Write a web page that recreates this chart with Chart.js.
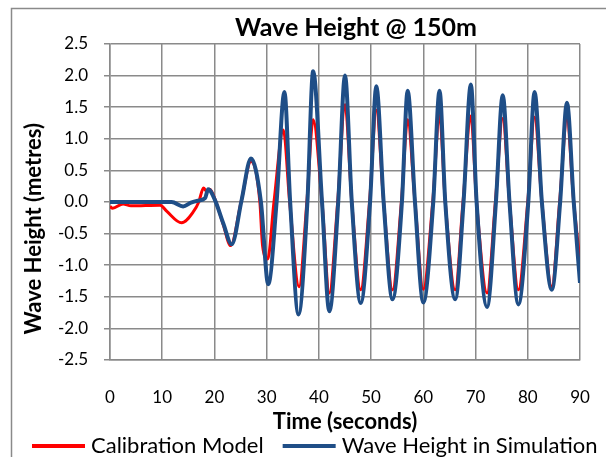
<!DOCTYPE html>
<html>
<head>
<meta charset="utf-8">
<script src="https://cdn.jsdelivr.net/npm/chart.js@4.4.1/dist/chart.umd.min.js"></script>
<style>
  html, body { margin: 0; padding: 0; background: #fff; overflow: hidden; }
  canvas { display: block; }
</style>
</head>
<body>
<canvas id="waveChart" width="606" height="457"></canvas>
<script>
// values (seconds, metres)
const calTime = [0, 0.5, 2.5, 4, 9.6, 10.9, 13.7, 16.0, 17.0, 17.9, 18.5, 19.1, 20.2, 21.7, 23.1,
  25.1, 27.0, 28.7, 29.2, 30.2, 31.4, 33.2, 34.4, 36.2, 37.7, 38.9, 40.6, 42.0, 43.6, 45.0,
  46.3, 48.0, 49.7, 51.0, 52.4, 54.1, 55.8, 57.0, 58.4, 60.0, 61.8, 63.1, 64.2, 66.1, 67.6,
  69.1, 70.2, 72.2, 73.8, 75.2, 76.5, 78.2, 80.0, 81.3, 82.7, 84.6, 86.1, 87.5, 88.8, 90.0];
const calHeight = [-0.07, -0.1, -0.03, -0.06, -0.05, -0.15, -0.33, -0.15, 0, 0.22, 0.17, 0.2, 0.02, -0.36, -0.69,
  0, 0.64, 0, -0.68, -0.9, 0, 1.14, 0, -1.34, 0, 1.3, 0, -1.44, 0, 1.54,
  0, -1.39, 0, 1.45, 0, -1.39, 0, 1.3, 0, -1.38, 0, 1.37, 0, -1.39, 0,
  1.36, 0, -1.44, 0, 1.32, 0, -1.39, 0, 1.34, 0, -1.34, 0, 1.3, 0, -0.95];

const simTime = [0, 5, 10, 11.8, 14.0, 15.5, 16.8, 18.2, 18.8, 20.1, 21.7, 23.3, 25.2, 27.0, 28.9,
  30.3, 31.9, 33.4, 34.5, 36.1, 37.8, 38.9, 40.6, 42.0, 43.7, 45.0, 46.3, 48.0, 49.8, 51.0,
  52.4, 54.1, 55.9, 57.0, 58.4, 60.0, 61.9, 63.1, 64.2, 66.1, 67.7, 69.1, 70.2, 72.2, 73.9,
  75.2, 76.5, 78.2, 80.1, 81.3, 82.7, 84.6, 86.2, 87.5, 88.8, 90.0];
const simHeight = [0, 0, 0, 0, -0.07, -0.01, 0.02, 0.06, 0.2, 0.03, -0.34, -0.67, 0.03, 0.69, 0,
  -1.3, 0, 1.74, 0, -1.78, 0, 2.07, 0, -1.73, 0, 2.0, 0, -1.6, 0, 1.83,
  0, -1.54, 0, 1.76, 0, -1.59, 0, 1.76, 0, -1.54, 0, 1.86, 0, -1.66, 0,
  1.69, 0, -1.62, 0, 1.74, 0, -1.39, 0, 1.57, 0, -1.28];

const seriesNames = ['Calibration Model', 'Wave Height in Simulation'];
const chartTitle = 'Wave Height @ 150m';
const xTitle = 'Time (seconds)';
const yTitle = 'Wave Height (metres)';

const FONT = 'Lato, "DejaVu Sans", sans-serif';
const GRID = '#8a8a8a';

const toPoints = (xs, ys) => xs.map((x, i) => ({ x: x, y: ys[i] }));

// frame of the original chart, centred title and a one-row legend (Excel style)
const framePlugin = {
  id: 'frame',
  beforeDraw(chart) {
    const c = chart.ctx;
    c.save();
    c.fillStyle = '#fff';
    c.fillRect(0, 0, chart.width, chart.height);
    c.strokeStyle = GRID;
    c.lineWidth = 1.5;
    c.beginPath();
    c.moveTo(11.5, chart.height);
    c.lineTo(11.5, 8.5);
    c.lineTo(chart.width, 8.5);
    c.stroke();
    c.restore();
  },
  afterDraw(chart) {
    const c = chart.ctx;
    c.save();
    c.font = 'bold 25px ' + FONT;
    c.fillStyle = '#000';
    c.textAlign = 'center';
    c.textBaseline = 'middle';
    c.fillText(chartTitle, 356, 28);

    c.font = '22px ' + FONT;
    c.textAlign = 'left';
    let x = 32;
    const y = 446;
    chart.data.datasets.forEach(ds => {
      c.strokeStyle = ds.borderColor;
      c.lineWidth = 4;
      c.beginPath();
      c.moveTo(x, y);
      c.lineTo(x + 53, y);
      c.stroke();
      c.fillText(ds.label, x + 59, y);
      x += 59 + c.measureText(ds.label).width + 19;
    });
    c.restore();
  }
};

new Chart(document.getElementById('waveChart'), {
  type: 'line',
  data: {
    datasets: [{
      label: seriesNames[0],
      data: toPoints(calTime, calHeight),
      borderColor: '#ff0000',
      backgroundColor: '#ff0000',
      borderWidth: 3,
      pointRadius: 0,
      cubicInterpolationMode: 'monotone',
      order: 1
    }, {
      label: seriesNames[1],
      data: toPoints(simTime, simHeight),
      borderColor: '#1f4e87',
      backgroundColor: '#1f4e87',
      borderWidth: 4,
      pointRadius: 0,
      cubicInterpolationMode: 'monotone',
      order: 0
    }]
  },
  options: {
    responsive: false,
    animation: false,
    layout: { padding: { left: 20, right: 26, top: 44, bottom: 0 } },
    plugins: {
      title: { display: false },
      tooltip: { enabled: false },
      legend: { display: false }
    },
    scales: {
      x: {
        type: 'linear',
        min: 0,
        max: 90,
        ticks: { stepSize: 10, padding: 3, color: '#000', font: { family: FONT, size: 17 } },
        grid: { color: GRID, lineWidth: 1.5, drawTicks: true, tickLength: 24, tickColor: 'rgba(0,0,0,0)' },
        border: { color: GRID, width: 1.5 },
        title: {
          display: true, text: xTitle, color: '#000',
          font: { family: FONT, size: 22, weight: 'bold' },
          padding: { top: 0, bottom: 22 }
        },
        afterFit(scale) { scale.height = 97; }
      },
      y: {
        min: -2.5,
        max: 2.5,
        ticks: {
          stepSize: 0.5, padding: 16, color: '#000',
          font: { family: FONT, size: 17 },
          callback: v => v.toFixed(1)
        },
        grid: { color: GRID, lineWidth: 1.5, tickLength: 6 },
        border: { color: GRID, width: 1.5 },
        title: {
          display: true, text: yTitle + '\u00a0'.repeat(10), color: '#000',
          font: { family: FONT, size: 22, weight: 'bold' },
          padding: { top: 0.8, bottom: 0 }
        },
        afterFit(scale) { scale.width = 90; }
      }
    }
  },
  plugins: [framePlugin]
});
</script>
</body>
</html>
